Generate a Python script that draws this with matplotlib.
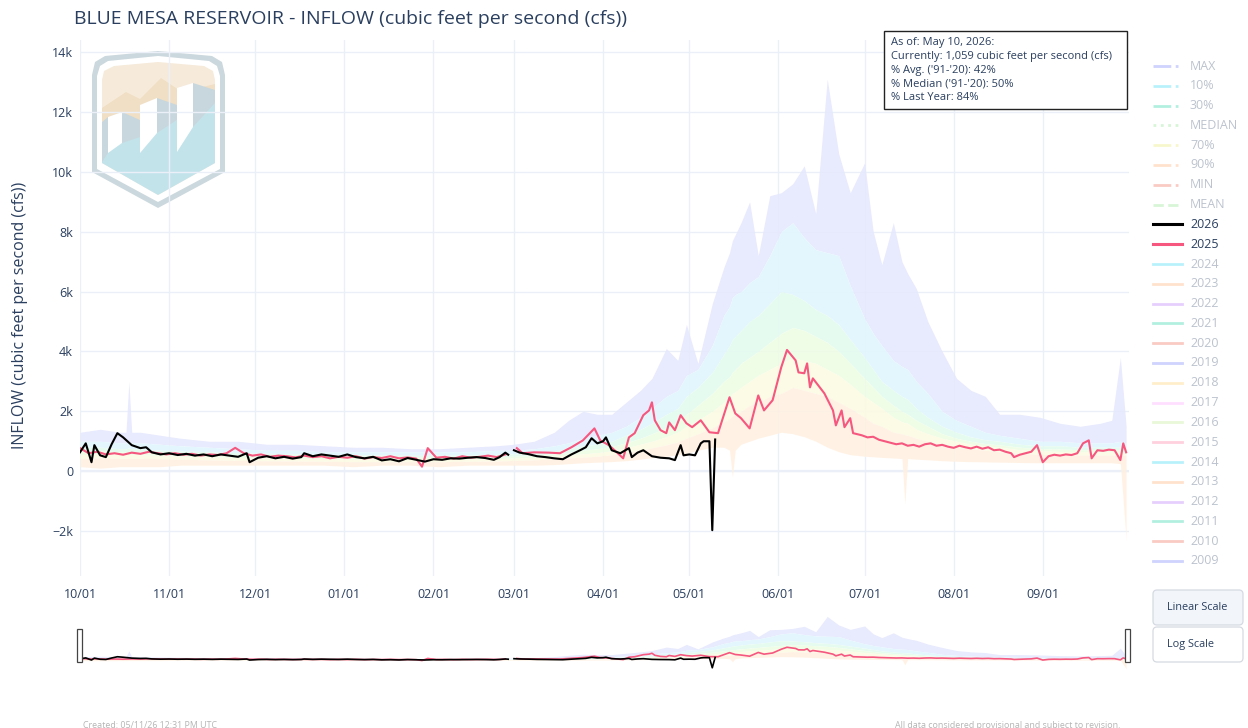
import numpy as np
import matplotlib
matplotlib.use("Agg")
import matplotlib.pyplot as plt
from matplotlib.patches import Polygon, Rectangle, FancyBboxPatch
from matplotlib.lines import Line2D

nan = np.nan

# day of water year (0 = Oct 1)
month_days = [0, 31, 61, 92, 123, 151, 182, 212, 243, 273, 304, 335]
month_labels = ["10/01", "11/01", "12/01", "01/01", "02/01", "03/01",
                "04/01", "05/01", "06/01", "07/01", "08/01", "09/01"]
y_ticks = [-2000, 0, 2000, 4000, 6000, 8000, 10000, 12000, 14000]
y_labels = ["\u22122k", "0", "2k", "4k", "6k", "8k", "10k", "12k", "14k"]

# percentile envelopes ('91-'20 stats)
band_days = [0, 7, 14, 16, 17, 18, 21, 28, 35, 45,
             55, 65, 75, 85, 95, 105, 115, 125, 135, 145,
             151, 158, 165, 170, 175, 180, 185, 190, 195, 199,
             204, 208, 211, 215, 220, 224, 226, 227, 228, 230,
             233, 236, 240, 244, 248, 252, 256, 260, 264, 268,
             273, 276, 279, 283, 286, 287, 288, 291, 295, 300,
             305, 310, 315, 320, 327, 334, 341, 348, 355, 359,
             362, 364]
q_max = [1300, 1400, 1300, 1300, 3000, 1300, 1300, 1200, 1100, 1000,
         1000, 900, 900, 850, 800, 800, 750, 750, 800, 850,
         900, 1000, 1300, 1700, 2000, 1900, 1900, 2300, 2700, 3100,
         4100, 3700, 4900, 3600, 5600, 6800, 7300, 7700, 7900, 8300,
         9000, 7200, 9200, 9300, 9600, 10200, 8600, 13100, 10600, 9300,
         10300, 8000, 6900, 8300, 7000, 6800, 6600, 6100, 5000, 4000,
         3100, 2700, 2500, 1900, 1900, 1800, 1600, 1500, 1600, 1700,
         3800, 1500]
q_10 = [1000, 1000, 950, 950, 1000, 950, 950, 900, 850, 800,
        750, 700, 700, 650, 650, 650, 650, 650, 650, 700,
        700, 750, 850, 950, 1100, 1200, 1300, 1500, 1800, 2100,
        2500, 2700, 3200, 3400, 4200, 5200, 5500, 5800, 5900, 6000,
        6300, 6500, 7200, 8000, 8300, 7800, 7400, 7300, 7200, 6200,
        5100, 4600, 4200, 3700, 3500, 3450, 3400, 3000, 2600, 2000,
        1700, 1500, 1300, 1200, 1100, 1000, 1000, 950, 950, 950,
        1000, 950]
q_30 = [800, 800, 750, 750, 780, 750, 750, 700, 680, 650,
        620, 600, 580, 560, 550, 540, 530, 530, 540, 560,
        580, 620, 680, 750, 850, 900, 1000, 1200, 1400, 1600,
        1900, 2100, 2500, 2800, 3300, 3900, 4200, 4400, 4500, 4700,
        5000, 5200, 5600, 6000, 5900, 5700, 5400, 5200, 4900, 4400,
        3800, 3400, 3000, 2700, 2500, 2450, 2400, 2100, 1800, 1500,
        1300, 1150, 1050, 1000, 900, 850, 850, 800, 800, 800,
        800, 800]
q_med = [650, 680, 650, 650, 660, 650, 640, 600, 580, 560,
         540, 520, 500, 480, 470, 460, 460, 460, 470, 480,
         500, 530, 580, 620, 700, 750, 820, 950, 1100, 1250,
         1450, 1650, 1900, 2200, 2600, 3000, 3150, 3300, 3400, 3600,
         3800, 4000, 4300, 4600, 4800, 4700, 4500, 4300, 4000, 3600,
         3100, 2800, 2500, 2200, 2000, 1950, 1900, 1700, 1500, 1250,
         1100, 1000, 920, 880, 800, 750, 740, 720, 720, 720,
         720, 720]
q_70 = [550, 580, 560, 560, 560, 560, 550, 520, 500, 480,
        460, 440, 430, 410, 400, 400, 390, 390, 400, 420,
        440, 460, 500, 540, 580, 620, 680, 780, 900, 1000,
        1150, 1300, 1500, 1700, 2000, 2300, 2450, 2600, 2650, 2800,
        3000, 3200, 3400, 3600, 3800, 3700, 3600, 3400, 3200, 2900,
        2500, 2300, 2100, 1800, 1650, 1620, 1600, 1400, 1250, 1100,
        1000, 900, 850, 800, 720, 680, 660, 650, 650, 650,
        650, 650]
q_90 = [420, 450, 430, 430, 440, 430, 430, 420, 400, 380,
        360, 350, 340, 330, 320, 320, 320, 320, 330, 340,
        360, 380, 410, 440, 470, 500, 550, 620, 700, 780,
        880, 980, 1100, 1250, 1450, 1650, 1750, 1850, 1900, 2000,
        2200, 2300, 2500, 2600, 2800, 2700, 2600, 2500, 2300, 2100,
        1800, 1600, 1500, 1300, 1250, 1220, 1200, 1100, 1000, 900,
        800, 750, 700, 650, 600, 560, 550, 540, 540, 540,
        540, 540]
q_min = [150, 100, 150, 150, 150, 150, 150, 150, 200, 200,
         200, 200, 200, 200, 150, 200, 200, 150, 200, 200,
         200, 200, 220, 250, 280, 300, 320, 350, 400, 450,
         500, 550, 600, 700, 800, 800, 700, -200, 700, 900,
         1000, 1100, 1200, 1300, 1250, 1150, 1000, 800, 650, 550,
         500, 480, 460, 440, 420, -1100, 420, 400, 380, 350,
         330, 320, 310, 300, 290, 280, 280, 280, 280, 280,
         250, -2300]

# WY2025 daily inflow (sampled)
days_2025 = [0, 3, 6, 9, 12, 15, 18, 21, 24, 27,
             30, 33, 36, 39, 42, 45, 48, 51, 54, 57,
             60, 63, 66, 69, 72, 75, 78, 81, 84, 87,
             90, 93, 96, 99, 102, 105, 108, 111, 114, 117,
             119, 121, 124, 127, 130, 133, 136, 139, 142, 145,
             148, 150, 152, 154, 158, 163, 167, 171, 175, 179,
             181, 184, 186, 189, 191, 193, 196, 198, 199, 200,
             202, 204, 205, 207, 209, 211, 213, 216, 219, 222,
             226, 228, 230, 233, 236, 238, 241, 244, 246, 249,
             250, 252, 253, 254, 255, 259, 262, 263, 265, 266,
             268, 269, 272, 274, 276, 278, 280, 282, 284, 286,
             288, 290, 292, 294, 296, 298, 300, 302, 304, 306,
             308, 310, 312, 314, 316, 318, 320, 322, 324, 325,
             327, 329, 331, 333, 335, 337, 339, 341, 343, 345,
             347, 349, 351, 352, 354, 356, 358, 360, 362, 363,
             364]
cfs_2025 = [770, 600, 650, 560, 600, 550, 620, 580, 650, 600,
            560, 600, 550, 580, 520, 560, 540, 600, 780, 600,
            520, 560, 480, 520, 500, 460, 520, 470, 500, 430,
            480, 450, 500, 420, 470, 440, 500, 430, 460, 420,
            150, 770, 450, 480, 420, 500, 450, 480, 520, 470,
            560, nan, 770, 600, 630, 620, 600, 800, 1030, 1430,
            1030, 870, 700, 430, 1130, 1270, 1870, 2030, 2300, 1700,
            1370, 1270, 1630, 1370, 1870, 1600, 1470, 1700, 1300, 1270,
            2470, 1930, 1770, 1430, 2530, 2030, 2370, 3470, 4050, 3700,
            3300, 3270, 3600, 2800, 3100, 2600, 2030, 1530, 2030, 1470,
            1770, 1270, 1200, 1130, 1150, 1050, 1000, 950, 900, 930,
            850, 880, 820, 900, 930, 850, 880, 820, 780, 850,
            800, 760, 820, 750, 800, 700, 720, 650, 600, 470,
            550, 600, 650, 870, 300, 500, 550, 520, 560, 540,
            600, 930, 1030, 430, 700, 680, 720, 700, 370, 930,
            630]

# WY2026 daily inflow (through May 10)
days_2026 = [0, 2, 4, 5, 7, 9, 11, 13, 15, 18,
             21, 23, 25, 28, 31, 34, 37, 40, 43, 46,
             49, 52, 55, 58, 59, 62, 65, 68, 71, 74,
             77, 78, 81, 84, 87, 90, 93, 96, 99, 102,
             105, 108, 111, 114, 117, 120, 123, 126, 129, 132,
             135, 138, 141, 144, 146, 148, 149, 150, 151, 153,
             156, 159, 162, 165, 168, 171, 174, 176, 178, 180,
             182, 183, 185, 188, 191, 192, 194, 196, 199, 202,
             205, 207, 209, 210, 212, 214, 216, 217, 219, 220,
             221]
cfs_2026 = [630, 930, 300, 870, 530, 470, 900, 1270, 1130, 870,
            770, 800, 630, 560, 600, 540, 580, 520, 560, 500,
            560, 520, 480, 600, 300, 450, 500, 430, 480, 420,
            470, 600, 500, 560, 520, 480, 560, 470, 430, 480,
            360, 400, 330, 440, 380, 320, 400, 380, 430, 420,
            450, 470, 440, 380, 470, 620, 550, nan, 700, 620,
            570, 500, 470, 430, 400, 560, 700, 800, 1100, 930,
            1000, 1130, 700, 600, 770, 470, 620, 700, 500, 450,
            430, 370, 870, 530, 560, 530, 930, 1000, 1000, -1970,
            1059]

legend_labels = ["MAX", "10%", "30%", "MEDIAN", "70%", "90%", "MIN", "MEAN",
                 "2026", "2025", "2024", "2023", "2022", "2021", "2020", "2019",
                 "2018", "2017", "2016", "2015", "2014", "2013", "2012", "2011",
                 "2010", "2009"]
info_lines = ["As of: May 10, 2026:",
              "Currently: 1,059 cubic feet per second (cfs)",
              "% Avg. ('91-'20): 42%",
              "% Median ('91-'20): 50%",
              "% Last Year: 84%"]

W, H = 1248, 728
plt.rcParams['font.family'] = ['Open Sans', 'DejaVu Sans']
TXT = '#2a3f5f'
GRID = '#ebf0f8'
PINK = '#f5577f'


def frect(x0, y0, x1, y1):
    # pixel box -> figure fraction [left, bottom, w, h]
    return [x0 / W, 1 - y1 / H, (x1 - x0) / W, (y1 - y0) / H]


def fx(px):
    return px / W


def fy(py):
    return 1 - py / H


fig = plt.figure(figsize=(W / 100, H / 100), dpi=100)
fig.patch.set_facecolor('white')

# --- logo (behind the plot) ---
lax = fig.add_axes(frect(88, 48, 230, 212), zorder=0)
lax.set_xlim(88, 230)
lax.set_ylim(212, 48)
lax.axis('off')
shapes = [
    ([(92, 75), (95, 62), (105, 56), (158, 51), (212, 56), (222, 62), (225, 75),
      (225, 172), (158, 208), (92, 172)], '#cbd8dd'),
    ([(97, 76), (100, 66), (108, 61), (158, 56), (209, 61), (217, 66), (220, 76),
      (220, 169), (158, 202), (97, 169)], 'white'),
    ([(102, 80), (104, 71), (114, 66), (158, 62), (204, 66), (213, 71), (215, 80),
      (215, 163), (158, 195), (102, 163)], '#f6eada'),
    ([(102, 108), (126, 92), (140, 99), (161, 78), (182, 92), (215, 84),
      (215, 118), (102, 135)], '#f0dfc4'),
    ([(102, 140), (215, 102), (215, 163), (158, 195), (102, 163)], '#c3e3eb'),
    ([(102, 122), (108, 117), (108, 153), (102, 162)], '#c8d7dd'),
    ([(108, 117), (122, 112), (122, 143), (108, 153)], 'white'),
    ([(122, 112), (140, 120), (140, 137), (122, 143)], '#c8d7dd'),
    ([(140, 105), (157, 98), (157, 133), (140, 153)], 'white'),
    ([(157, 98), (177, 105), (177, 120), (157, 133)], '#c8d7dd'),
    ([(177, 88), (193, 83), (193, 127), (177, 152)], 'white'),
    ([(193, 83), (215, 90), (215, 103), (193, 127)], '#c8d7dd'),
]
for pts, col in shapes:
    lax.add_patch(Polygon(pts, closed=True, facecolor=col, edgecolor='none'))

band_fills = [(q_10, q_max, '#e6e8fd'), (q_30, q_10, '#e2f6fd'),
              (q_med, q_30, '#e4fbef'), (q_70, q_med, '#eefde5'),
              (q_90, q_70, '#fcfbe3'), (q_min, q_90, '#fff1e2')]


def draw_data(a, lw):
    for lo, hi, col in band_fills:
        a.fill_between(band_days, lo, hi, color=col, alpha=0.9, lw=0)
    a.plot(days_2025, cfs_2025, color=PINK, lw=lw, zorder=3)
    a.plot(days_2026, cfs_2026, color='black', lw=lw, zorder=4)


# --- main plot ---
ax = fig.add_axes(frect(80, 40, 1129, 576), zorder=1)
ax.set_facecolor('none')
draw_data(ax, 1.5)
ax.set_xlim(0, 365)
ax.set_ylim(-3500, 14400)
ax.set_xticks(month_days)
ax.set_xticklabels(month_labels)
ax.set_yticks(y_ticks)
ax.set_yticklabels(y_labels)
ax.set_axisbelow(True)
ax.grid(True, color=GRID, lw=1)
ax.axhline(0, color=GRID, lw=1.6, zorder=0)
for s in ax.spines.values():
    s.set_visible(False)
ax.tick_params(length=0, labelsize=9, labelcolor=TXT)
ax.tick_params(axis='x', pad=9)
ax.tick_params(axis='y', pad=5)

# --- range slider ---
rs = fig.add_axes(frect(80, 612, 1129, 673), zorder=1)
draw_data(rs, 1.2)
rs.set_xlim(0, 365)
rs.set_ylim(-3500, 14400)
rs.axis('off')
for x0 in (77, 1125):
    fig.add_artist(Rectangle((fx(x0), fy(662)), 5 / W, 33 / H, transform=fig.transFigure,
                             facecolor='white', edgecolor='#444444', lw=0.9, zorder=5))

# --- titles ---
fig.text(fx(74), fy(19), "BLUE MESA RESERVOIR - INFLOW (cubic feet per second (cfs))",
         fontsize=14, color=TXT, va='center', ha='left')
fig.text(fx(20), fy(315), "INFLOW (cubic feet per second (cfs))", rotation=90,
         fontsize=11.5, color=TXT, va='center', ha='center')

# --- info box ---
fig.add_artist(Rectangle((fx(884), fy(109)), 243 / W, 78 / H, transform=fig.transFigure,
                         facecolor='white', edgecolor='#222222', lw=1.0, zorder=6))
for i, line in enumerate(info_lines):
    fig.text(fx(891), fy(43 + i * 13.6), line, fontsize=8, color=TXT,
             va='center', ha='left', zorder=7)

# --- legend ---
leg_colors = ['#636efa', '#19d3f3', '#00cc96', '#7ee07e', '#e6e65a', '#ffa15a',
              '#ef553b', '#7ee07e', 'black', PINK,
              '#19d3f3', '#ffa15a', '#ab63fa', '#00cc96', '#ef553b', '#636efa',
              '#fecb52', '#ff97ff', '#b6e880', '#ff6692', '#19d3f3', '#ffa15a',
              '#ab63fa', '#00cc96', '#ef553b', '#636efa']
leg_styles = ['-.', '-.', '-.', ':', '-.', '-.', '-.', '--'] + ['-'] * 18
for i, lab in enumerate(legend_labels):
    y = 66 + i * 19.8
    shown = lab in ("2026", "2025")
    fig.add_artist(Line2D([fx(1153), fx(1182)], [fy(y), fy(y)], transform=fig.transFigure,
                          color=leg_colors[i], ls=leg_styles[i],
                          lw=2.2 if shown else 2.0, alpha=1.0 if shown else 0.3))
    fig.text(fx(1190), fy(y), lab, fontsize=9, va='center', ha='left',
             color=TXT if shown else '#bcc3ce')

# --- scale buttons ---
for (y0, y1, face, lab) in [(590, 625, '#f2f5fa', "Linear Scale"), (627, 662, 'white', "Log Scale")]:
    fig.add_artist(FancyBboxPatch((fx(1153), fy(y1)), 90 / W, (y1 - y0) / H,
                                  boxstyle="round,pad=0,rounding_size=%f" % (4 / W),
                                  mutation_aspect=W / H, transform=fig.transFigure,
                                  facecolor=face, edgecolor='#d5dae2', lw=0.9))
    fig.text(fx(1167), fy((y0 + y1) / 2), lab, fontsize=7.8, color=TXT, va='center', ha='left')

# --- footer ---
fig.text(fx(83), fy(725), "Created: 05/11/26 12:31 PM UTC", fontsize=6.4, color='#b5b5b5',
         va='center', ha='left')
fig.text(fx(895), fy(725), "All data considered provisional and subject to revision.",
         fontsize=6.4, color='#b5b5b5', va='center', ha='left')

fig.savefig("out.png", dpi=100, facecolor='white')
